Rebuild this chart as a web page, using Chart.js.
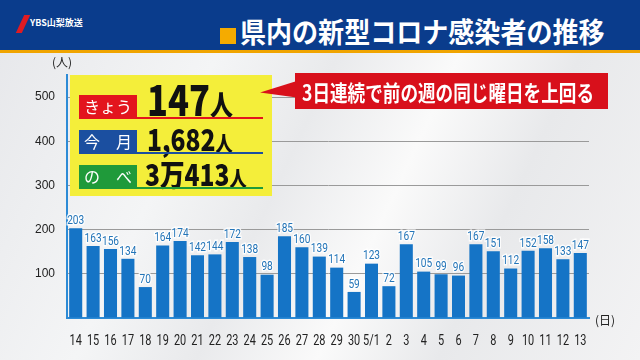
<!DOCTYPE html>
<html><head><meta charset="utf-8">
<script src="https://cdn.jsdelivr.net/npm/chart.js@4/dist/chart.umd.min.js"></script>
<style>
html,body{margin:0;padding:0;width:640px;height:360px;overflow:hidden;font-family:"Noto Sans CJK JP","Noto Sans",sans-serif;}
#bg{position:absolute;left:0;top:0;width:640px;height:360px;background:linear-gradient(115deg,#e6e7ea 0%,#f4f5f6 30%,#e9eaec 45%,#fafafa 60%,#e8e9eb 75%,#f3f3f4 100%);}
#hdr{position:absolute;left:0;top:0;width:640px;height:50px;background:#0a3c8c;border-bottom:3px solid #f0a400;}
#logo{position:absolute;left:20px;top:15px;color:#fff;font-size:9px;font-weight:bold;}
#logo .bolt{display:inline-block;width:6px;height:18px;background:#e01b22;transform:skew(-25deg);vertical-align:middle;margin-right:4px;}
#sq{position:absolute;left:220px;top:28px;width:16px;height:16px;background:#f5ab00;}
#title{position:absolute;left:240px;top:15px;color:#fff;font-size:28px;font-weight:bold;line-height:32px;white-space:nowrap;transform:scaleX(0.93);transform-origin:0 0;}
canvas{position:absolute;left:0;top:0;}
#box{position:absolute;left:70px;top:75px;width:202px;height:121px;background:#f4ee3a;}
.lab{position:absolute;left:9px;width:58px;height:22px;color:#fff;font-size:16px;line-height:22px;text-align:center;}
.num{position:absolute;font-weight:900;color:#111;white-space:nowrap;transform:scaleX(0.82);transform-origin:0 0;}
.ul{position:absolute;left:9px;width:184px;height:2px;}
#callout{position:absolute;left:295px;top:73px;width:313px;height:36px;background:#d8101b;}
#ctext{position:absolute;left:302px;top:72px;color:#fff;font-size:22px;font-weight:bold;line-height:38px;white-space:nowrap;transform:scaleX(0.8);transform-origin:0 0;}
#tri{position:absolute;left:260px;top:83px;width:0;height:0;border-top:8px solid transparent;border-bottom:8px solid transparent;border-right:36px solid #d8101b;transform:rotate(-5deg);}
#ylab{position:absolute;left:52px;top:53px;font-size:12px;color:#222;}
#xlab{position:absolute;left:595px;top:311px;font-size:12px;color:#222;}
</style></head>
<body>
<div id="bg"></div>
<div id="hdr"><div id="logo"><span class="bolt"></span>YBS山梨放送</div><div id="sq"></div><div id="title">県内の新型コロナ感染者の推移</div></div>
<canvas id="c" width="640" height="360"></canvas>
<div id="ylab">(人)</div>
<div id="xlab">(日)</div>
<div id="box">
 <div class="lab" style="top:20px;background:#e3141d;">きょう</div>
 <div class="num" style="left:77px;top:0px;font-size:42px;line-height:46px;">147<span style="font-size:28px;">人</span></div>
 <div class="ul" style="top:42px;background:#e3141d;"></div>
 <div class="lab" style="top:55px;background:#1b4fa0;">今　月</div>
 <div class="num" style="left:77px;top:47px;font-size:30px;line-height:32px;">1,682<span style="font-size:21px;">人</span></div>
 <div class="ul" style="top:77px;background:#1b4fa0;"></div>
 <div class="lab" style="top:90px;background:#1f9a3a;">の　べ</div>
 <div class="num" style="left:75px;top:82px;font-size:30px;line-height:32px;">3万413<span style="font-size:21px;">人</span></div>
 <div class="ul" style="top:112px;background:#1f9a3a;"></div>
</div>
<div id="tri"></div>
<div id="callout"></div>
<div id="ctext">3日連続で前の週の同じ曜日を上回る</div>
<script>
const categories = ["14","15","16","17","18","19","20","21","22","23","24","25","26","27","28","29","30","5/1","2","3","4","5","6","7","8","9","10","11","12","13"];
const cases = [203,163,156,134,70,164,174,142,144,172,138,98,185,160,139,114,59,123,72,167,105,99,96,167,151,112,152,158,133,147];
const yTicks = [100,200,300,400,500];

function condensedText(ctx, txt, x, y, sx){
  ctx.save(); ctx.translate(x,y); ctx.scale(sx,1);
  ctx.strokeText(txt,0,0); ctx.fillText(txt,0,0); ctx.restore();
}
const customLabels = {
  id:'customLabels',
  afterDatasetsDraw(chart){
    const ctx = chart.ctx;
    const meta = chart.getDatasetMeta(0);
    ctx.save();
    ctx.textAlign = 'center';
    ctx.font = '13px "Roboto","Liberation Sans",sans-serif';
    ctx.textBaseline = 'bottom';
    ctx.lineWidth = 3; ctx.strokeStyle = 'rgba(255,255,255,0.85)';
    ctx.fillStyle = '#2475b8';
    meta.data.forEach((bar,i)=>{ condensedText(ctx, String(cases[i]), bar.x, bar.y - 1, 0.78); });
    ctx.font = '14px "Roboto","Liberation Sans",sans-serif';
    ctx.textBaseline = 'middle';
    ctx.lineWidth = 0; ctx.strokeStyle = 'rgba(0,0,0,0)';
    ctx.fillStyle = '#222';
    const xs = chart.scales.x;
    categories.forEach((c,i)=>{ condensedText(ctx, c, xs.getPixelForValue(i), 341, 0.78); });
    ctx.restore();
  }
};

new Chart(document.getElementById('c'), {
  type:'bar',
  data:{labels:categories, datasets:[{data:cases, backgroundColor:'#1574c6', barPercentage:0.75, categoryPercentage:1}]},
  options:{
    responsive:false, animation:false,
    layout:{padding:{top:75,right:51,bottom:0,left:0}},
    plugins:{legend:{display:false},tooltip:{enabled:false}},
    scales:{
      x:{
        grid:{display:false},
        border:{display:true,color:'#2d8bd6',width:2},
        ticks:{display:false},
        afterFit(s){s.height=42;}
      },
      y:{
        min:0,max:550,
        afterBuildTicks(s){s.ticks = [0].concat(yTicks).map(v=>({value:v}));},
        grid:{color:(c)=> (c.tick && c.tick.value>0) ? '#9a9a9a' : 'rgba(0,0,0,0)', borderDash:[2,3], drawTicks:false},
        border:{display:true,color:'#2d8bd6',width:2},
        ticks:{color:'#222',font:{size:12,family:'"Liberation Sans","Arial",sans-serif'},padding:12,callback:(v)=> v===0?'':String(v)},
        afterFit(s){s.width=67;}
      }
    }
  },
  plugins:[customLabels]
});
</script>
</body></html>
